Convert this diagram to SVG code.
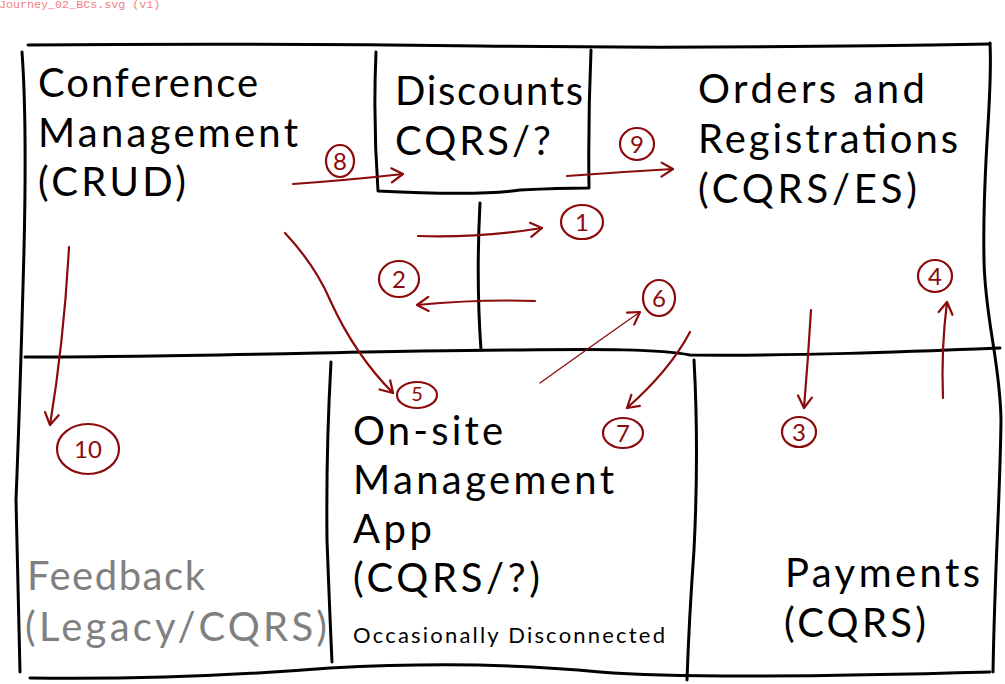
<svg xmlns="http://www.w3.org/2000/svg" width="1005" height="684" viewBox="0 0 1005 684">
<style>
.frame{fill:none;stroke:#000;stroke-width:3;stroke-linecap:round;stroke-linejoin:round}
.t{font-family:Lato,"Liberation Sans",sans-serif;font-size:40px;fill:#000}
.g{fill:#808080}
.small{font-size:22px}
.c{fill:none;stroke:#8b0a0a;stroke-width:2.2;stroke-linecap:round;stroke-linejoin:round}
.thin{stroke-width:1.3}
.lab{fill:none;stroke:#8b0a0a;stroke-width:2.2}
.num{font-family:Lato,"Liberation Sans",sans-serif;font-size:24px;fill:#8b0a0a;text-anchor:middle}
.title{font-family:"Liberation Mono",monospace;font-size:11.7px;fill:#f08080}
</style>
<defs>
<marker id="ah" viewBox="-16 -10 20 20" refX="0" refY="0" markerWidth="20" markerHeight="20" markerUnits="userSpaceOnUse" orient="auto">
<path d="M-11,-7 L0,0 L-12,7" fill="none" stroke="#8b0a0a" stroke-width="2.2" stroke-linecap="round" stroke-linejoin="round"/>
</marker>
</defs>
<rect width="1005" height="684" fill="#fff"/>
<text class="title" x="-1" y="8">Journey_02_BCs.svg (v1)</text>

<g id="frame" class="frame">
<path d="M28,45 Q250,43 480,46 T990,44"/>
<path d="M22,52 Q27,120 24,250 Q20,400 16,500 Q18,600 20,672"/>
<path d="M990,43 C993,100 982,160 984,260 C985,320 1000,360 1001,420 C1000,500 995,560 993,672"/>
<path d="M30,678 Q180,680 330,668 Q480,660 600,672 Q700,680 990,672"/>
<path d="M25,357 C200,357 400,350 520,350 C600,349 660,349 690,355 C800,356 900,352 1000,348"/>
<path d="M480,203 Q476,280 481,350"/>
<path d="M331,362 Q326,450 327,540 Q330,620 332,662"/>
<path d="M694,360 Q699,450 694,550 Q689,620 687,680"/>
</g>

<g id="conference-management">
<text class="t" x="38" y="97" textLength="220" lengthAdjust="spacing">Conference</text>
<text class="t" x="38" y="147" textLength="260" lengthAdjust="spacing">Management</text>
<text class="t" x="38" y="196" textLength="148" lengthAdjust="spacing">(CRUD)</text>
</g>

<g id="discounts">
<path class="frame" d="M376,52 Q373,120 378,191 Q480,196 520,190 Q560,188 588,188 M591,50 Q588,120 589,188"/>
<text class="t" x="395" y="105" textLength="188" lengthAdjust="spacing">Discounts</text>
<text class="t" x="395" y="155" textLength="156" lengthAdjust="spacing">CQRS/?</text>
</g>

<g id="orders-registrations">
<text class="t" x="698" y="103" textLength="227" lengthAdjust="spacing">Orders and</text>
<text class="t" x="698" y="153" textLength="260" lengthAdjust="spacing">Registrations</text>
<text class="t" x="698" y="203" textLength="219" lengthAdjust="spacing">(CQRS/ES)</text>
</g>

<g id="feedback">
<text class="t g" x="27" y="590" textLength="178" lengthAdjust="spacing">Feedback</text>
<text class="t g" x="25" y="641" textLength="302" lengthAdjust="spacing">(Legacy/CQRS)</text>
</g>

<g id="onsite-management">
<text class="t" x="353" y="445" textLength="150" lengthAdjust="spacing">On-site</text>
<text class="t" x="353" y="494" textLength="261" lengthAdjust="spacing">Management</text>
<text class="t" x="353" y="543" textLength="79" lengthAdjust="spacing">App</text>
<text class="t" x="353" y="592" textLength="187" lengthAdjust="spacing">(CQRS/?)</text>
<text class="t small" x="353" y="643" textLength="312" lengthAdjust="spacing">Occasionally Disconnected</text>
</g>

<g id="payments">
<text class="t" x="785" y="587" textLength="195" lengthAdjust="spacing">Payments</text>
<text class="t" x="784" y="637" textLength="142" lengthAdjust="spacing">(CQRS)</text>
</g>

<g id="connectors">
<path class="c" marker-end="url(#ah)" d="M293,184 Q350,180 403,174"/>
<path class="c" marker-end="url(#ah)" d="M567,176 Q620,172 673,169"/>
<path class="c" marker-end="url(#ah)" d="M418,236 Q480,238 542,228"/>
<path class="c" marker-end="url(#ah)" d="M535,301 Q480,299 417,305"/>
<path class="c" marker-end="url(#ah)" d="M285,233 Q315,265 330,300 Q355,355 393,393"/>
<path class="c thin" marker-end="url(#ah)" d="M540,383 Q600,340 640,312"/>
<path class="c" marker-end="url(#ah)" d="M690,332 Q670,370 627,408"/>
<path class="c" marker-end="url(#ah)" d="M811,310 Q808,360 804,408"/>
<path class="c" marker-end="url(#ah)" d="M943,398 Q941,350 947,302"/>
<path class="c" marker-end="url(#ah)" d="M69,247 Q64,340 50,425"/>

<g id="label-1"><ellipse class="lab" cx="582" cy="222" rx="21" ry="17"/><text class="num" x="582" y="231">1</text></g>
<g id="label-2"><ellipse class="lab" cx="399" cy="279" rx="20" ry="18"/><text class="num" x="399" y="288">2</text></g>
<g id="label-3"><ellipse class="lab" cx="799" cy="432" rx="17" ry="15"/><text class="num" x="799" y="441">3</text></g>
<g id="label-4"><ellipse class="lab" cx="935" cy="276" rx="17" ry="16"/><text class="num" x="935" y="285">4</text></g>
<g id="label-5"><ellipse class="lab" cx="417" cy="395" rx="20" ry="13"/><text class="num" x="417" y="401" style="font-size:20px">5</text></g>
<g id="label-6"><ellipse class="lab" cx="659" cy="298" rx="16" ry="18"/><text class="num" x="659" y="307">6</text></g>
<g id="label-7"><ellipse class="lab" cx="623" cy="433" rx="20" ry="15"/><text class="num" x="623" y="442">7</text></g>
<g id="label-8"><ellipse class="lab" cx="340" cy="161" rx="14" ry="16"/><text class="num" x="340" y="170">8</text></g>
<g id="label-9"><ellipse class="lab" cx="637" cy="144" rx="17" ry="16"/><text class="num" x="637" y="153">9</text></g>
<g id="label-10"><ellipse class="lab" cx="88" cy="449" rx="31" ry="25"/><text class="num" x="88" y="458">10</text></g>
</g>
</svg>
